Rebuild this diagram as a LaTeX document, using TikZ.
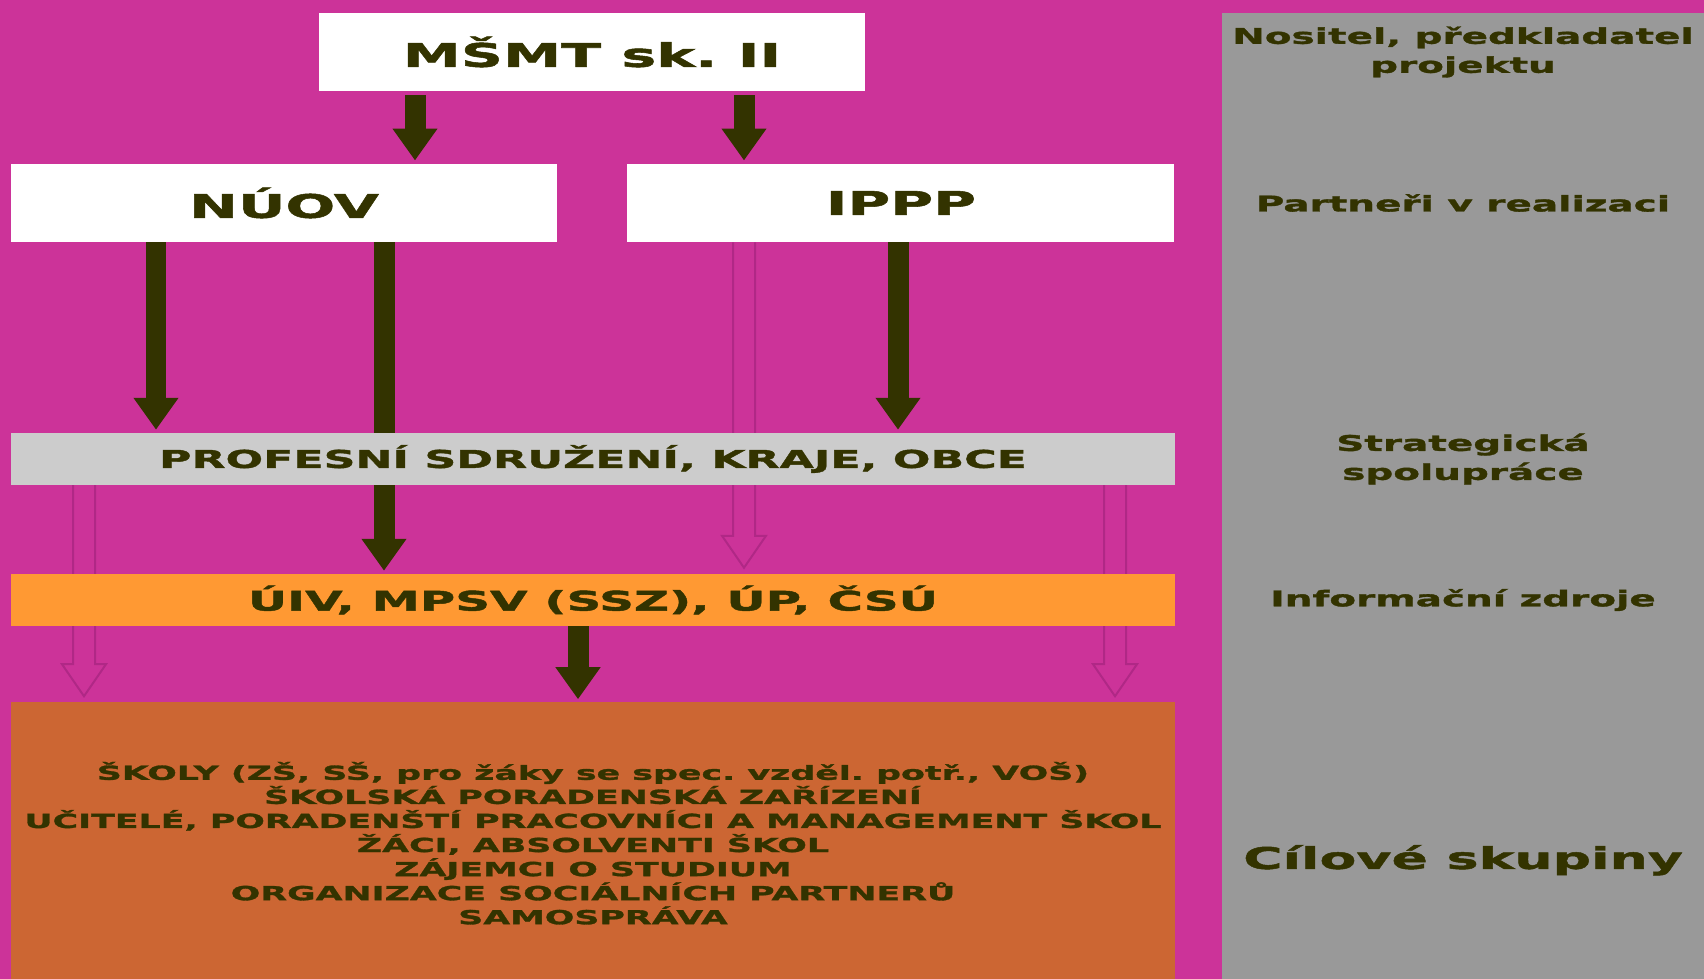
\documentclass[tikz,border=0pt]{standalone}
\usepackage{fontspec}
\newfontfamily\widefont{DejaVu Sans Bold}[FakeStretch=1.8, FakeBold=1.6]
\usetikzlibrary{calc}
\usetikzlibrary{arrows.meta, positioning, backgrounds}
\frenchspacing

\definecolor{pinkbg}{RGB}{204,51,153}
\definecolor{ink}{RGB}{51,51,0}
\definecolor{barGrey}{RGB}{204,204,204}
\definecolor{barOrange}{RGB}{255,153,51}
\definecolor{groupBrown}{RGB}{204,102,51}
\definecolor{panelGrey}{RGB}{153,153,153}
\definecolor{hollowEdge}{RGB}{176,40,134}

% prázdná šipka: #1 začátek, #2 hrot
\newcommand{\hollowarrow}[2]{%
  \draw[hollow] ($(#1)+(-11,0)$) -- ($(#2)+(-11,-38)$) -- ($(#2)+(-22,-38)$)
    -- ($(#2)+(0,-6)$) -- ($(#2)+(22,-38)$) -- ($(#2)+(11,-38)$) -- ($(#1)+(11,0)$);}

\begin{document}
\begin{tikzpicture}[
    x=0.02cm, y=-0.02cm, % 1 jednotka = 1 px předlohy
    node distance=1.4cm and 1.4cm,
    box/.style={
      rectangle,
      minimum width=10.94cm,
      minimum height=1.58cm,
      inner sep=0pt,
      outer sep=0pt,
      fill=white,
      text=ink,
      font=\widefont\fontsize{18.5}{22}\selectfont
    },
    bar/.style={
      box,
      minimum width=23.28cm,
      minimum height=1.05cm,
      font=\widefont\fontsize{14}{17}\selectfont
    },
    groupbox/.style={
      bar,
      fill=groupBrown,
      minimum height=5.64cm,
      align=center,
      font=\widefont\fontsize{11}{13.7}\selectfont
    },
    panel/.style={
      rectangle,
      fill=panelGrey,
      minimum width=9.64cm,
      minimum height=19.32cm,
      inner sep=0pt
    },
    sidelabel/.style={
      text=ink,
      align=center,
      inner sep=0pt,
      font=\widefont\fontsize{12.3}{16.5}\selectfont
    },
    arrow/.style={
      -{Triangle[width=0.86cm, length=0.64cm]},
      line width=0.42cm,
      draw=ink,
      shorten >=0.06cm
    },
    hollow/.style={
      draw=hollowEdge,
      line width=0.04cm,
      fill=pinkbg
    }
  ]

  \clip (0,0) rectangle (1704,979);

  % Uzly - horní řada
  \node[box] (mst) at (592,52) {MŠMT sk. II};
  \node[box] (nuov) at (284,203) {NÚOV};
  \node[box, right=of nuov] (ippp) {IPPP};

  % Pruhy
  \node[bar, fill=barGrey] (prof) at (593,459) {PROFESNÍ SDRUŽENÍ, KRAJE, OBCE};
  \node[bar, fill=barOrange, font=\widefont\fontsize{15.3}{18}\selectfont] (uiv) at (593,600) {ÚIV, MPSV (SSZ), ÚP, ČSÚ};
  \node[groupbox, below=1.52cm of uiv] (groups) {ŠKOLY (ZŠ, SŠ, pro žáky se spec. vzděl. potř., VOŠ)\\
    ŠKOLSKÁ PORADENSKÁ ZAŘÍZENÍ\\
    UČITELÉ, PORADENŠTÍ PRACOVNÍCI A MANAGEMENT ŠKOL\\
    ŽÁCI, ABSOLVENTI ŠKOL\\
    ZÁJEMCI O STUDIUM\\
    ORGANIZACE SOCIÁLNÍCH PARTNERŮ\\
    SAMOSPRÁVA};

  % Pravý sloupec - popisky
  \node[panel] (side) at (1463,496) {};
  \node[sidelabel] (lblmst) at (side |- mst) {Nositel, předkladatel\\projektu};
  \node[sidelabel] (lblnuov) at (side |- nuov) {Partneři v realizaci};
  \node[sidelabel] (lblprof) at (side |- prof) {Strategická\\spolupráce};
  \node[sidelabel] (lbluiv) at (side |- uiv) {Informační zdroje};
  \node[sidelabel, font=\widefont\fontsize{17}{20}\selectfont] (lblgroups) at ($(side |- groups)+(0,17)$) {Cílové skupiny};

  % Sloupce šipek
  \coordinate (c1) at (156,0);
  \coordinate (c2) at (384,0);
  \coordinate (c2a) at (415,0);
  \coordinate (c3) at (744,0);
  \coordinate (c4) at (84,0);
  \coordinate (c5) at (1115,0);
  \coordinate (c6) at (898,0);
  \coordinate (c7) at (578,0);

  % Pozadí a šipky schované za pruhy
  \begin{scope}[on background layer]
    \fill[pinkbg] (0,0) rectangle (1704,979);
    \draw[arrow] (c2 |- nuov.south) -- (c2 |- uiv.north);
    \hollowarrow{c3 |- ippp.south}{c3 |- uiv.north}
    \hollowarrow{c4 |- prof.south}{c4 |- groups.north}
    \hollowarrow{c5 |- prof.south}{c5 |- groups.north}
  \end{scope}

  % Šipky
  \draw[arrow, shorten <=0.08cm] (c2a |- mst.south) -- (c2a |- nuov.north);
  \draw[arrow, shorten <=0.08cm] (c3 |- mst.south) -- (c3 |- ippp.north);
  \draw[arrow] (c1 |- nuov.south) -- (c1 |- prof.north);
  \draw[arrow] (c6 |- ippp.south) -- (c6 |- prof.north);
  \draw[arrow] (c7 |- uiv.south) -- (c7 |- groups.north);

\end{tikzpicture}
\end{document}
